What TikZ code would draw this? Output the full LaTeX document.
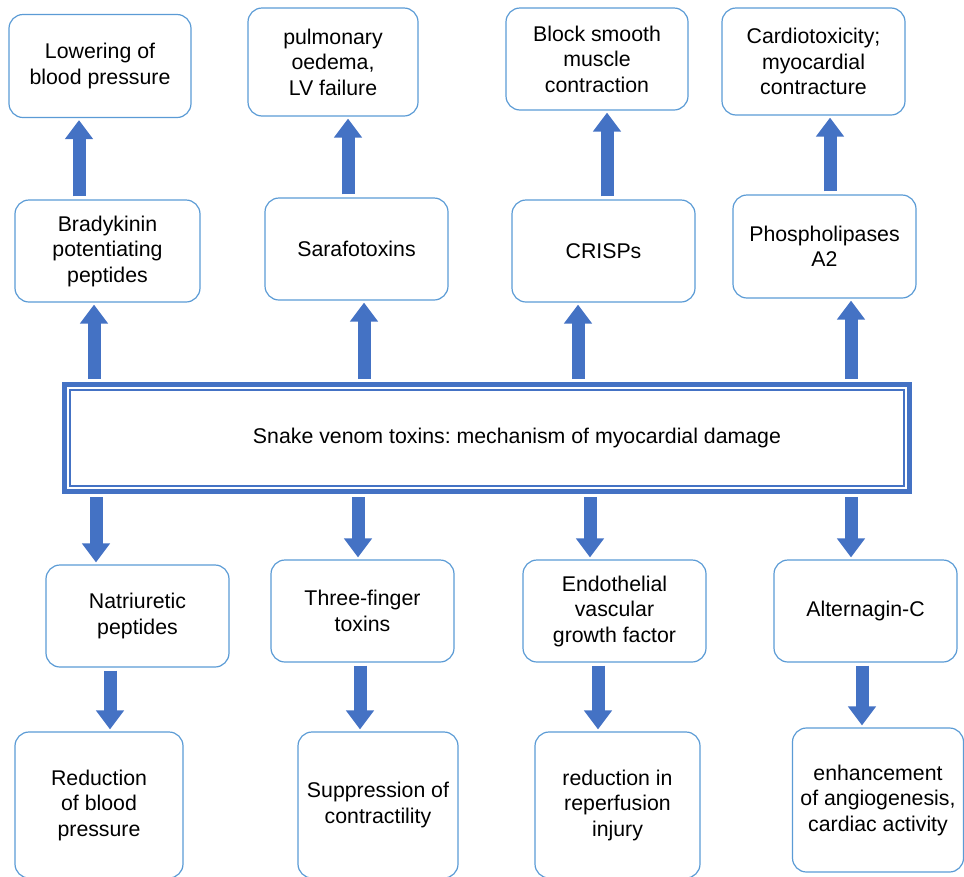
\documentclass[tikz,border=0pt]{standalone}
\usepackage{fontspec}
\setmainfont{Liberation Sans}
\usetikzlibrary{arrows.meta}
\definecolor{boxblue}{RGB}{91,155,213}
\definecolor{arrowblue}{RGB}{68,114,196}
\frenchspacing

\begin{document}
\begin{tikzpicture}[x=1pt, y=-1pt,
	every node/.style={font=\fontsize{21.3}{25.5}\selectfont},
	vbox/.style={draw=boxblue, line width=1.2pt, rounded corners=14pt, align=center, minimum width=183pt, minimum height=102pt, inner sep=2pt},
	blockarrow/.style={arrowblue, line width=13pt, -{Triangle[length=19pt, width=27pt]}, shorten <=3pt, shorten >=2pt}]
	\useasboundingbox (0,0) rectangle (964,876);
	\clip (0,0) rectangle (964,876);
	% top row: effects
	\node[vbox, minimum width=182pt, minimum height=103pt] (lowbp) at (100,66) {Lowering of\\blood pressure};
	\node[vbox, minimum width=170pt, minimum height=108pt] (oedema) at (333,62) {pulmonary\\oedema,\\LV failure};
	\node[vbox, minimum width=182pt] (smooth) at (597,59) {Block smooth\\muscle\\contraction};
	\node[vbox, minimum height=107pt] (cardio) at (813.5,61.5) {Cardiotoxicity;\\myocardial\\contracture};
	% second row: toxins
	\node[vbox, minimum width=185pt] (bpp) at (107.5,251) {Bradykinin\\potentiating\\peptides};
	\node[vbox] (sarafo) at (356.5,249) {Sarafotoxins};
	\node[vbox] (crisp) at (603.5,251) {CRISPs};
	\node[vbox, minimum height=103pt] (pla) at (824.5,246.5) {Phospholipases\\A2};
	% centre
	\node[draw=arrowblue, line width=5pt, minimum width=845pt, minimum height=107pt] (venom) at (487,438) {\hspace*{60pt}Snake venom toxins: mechanism of myocardial damage};
	\draw[arrowblue, line width=1.3pt] ([shift={(8,8)}]venom.north west) rectangle ([shift={(-8,-8)}]venom.south east);
	% lower row: toxins
	\node[vbox] (natri) at (137.5,616) {Natriuretic\\peptides};
	\node[vbox] (three) at (362.5,611) {Three-finger\\toxins};
	\node[vbox] (vegf) at (614.5,611) {Endothelial\\vascular\\growth factor};
	\node[vbox] (alter) at (865.5,611) {Alternagin-C};
	% bottom row: effects
	\node[vbox, minimum width=168pt, minimum height=146pt] (redbp) at (99,805) {Reduction\\of blood\\pressure};
	\node[vbox, minimum width=160pt, minimum height=146pt] (suppr) at (378,805) {Suppression of\\contractility};
	\node[vbox, minimum width=165pt, minimum height=146pt] (reperf) at (617.5,805) {reduction in\\reperfusion\\injury};
	\node[vbox, minimum width=171pt, minimum height=144pt] (angio) at (878,800) {enhancement\\of angiogenesis,\\cardiac activity};
	% arrows
	\foreach \x/\a/\b in {79/bpp/lowbp, 348/sarafo/oedema, 607/crisp/smooth, 830/pla/cardio,
		94/venom/bpp, 364/venom/sarafo, 578/venom/crisp, 851/venom/pla}
		\draw[blockarrow] (\a.north -| \x,0) -- (\b.south -| \x,0);
	\foreach \x/\a/\b in {96/venom/natri, 358/venom/three, 590/venom/vegf, 851/venom/alter,
		110/natri/redbp, 360/three/suppr, 598/vegf/reperf, 862/alter/angio}
		\draw[blockarrow] (\a.south -| \x,0) -- (\b.north -| \x,0);
\end{tikzpicture}
\end{document}
